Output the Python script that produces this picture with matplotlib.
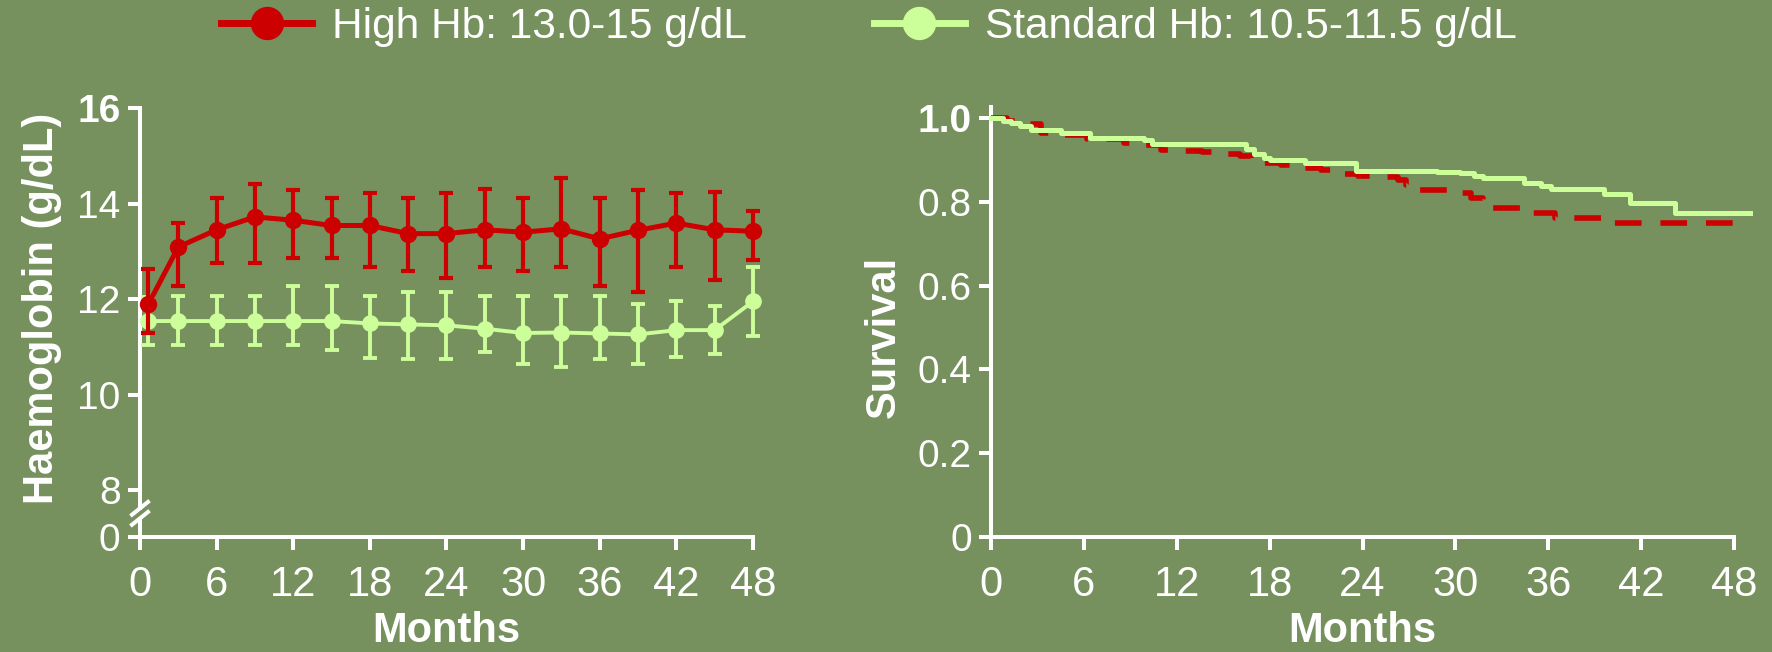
import matplotlib
matplotlib.use("Agg")
import matplotlib.pyplot as plt
from matplotlib.lines import Line2D

plt.rcParams["font.family"] = ["Liberation Sans", "DejaVu Sans"]

BG = "#76905E"
RED = "#CC0000"
GREEN = "#CCFF99"
WHITE = "white"

# --- left panel: haemoglobin over time (mean with asymmetric error bars)
HB_MONTHS = [0.65, 3, 6, 9, 12, 15, 18, 21, 24, 27, 30, 33, 36, 39, 42, 45, 48]
HIGH_MEAN = [11.89, 13.09, 13.45, 13.72, 13.65, 13.54, 13.54, 13.37, 13.37,
             13.45, 13.40, 13.47, 13.26, 13.44, 13.59, 13.45, 13.42]
HIGH_UPPER = [12.63, 13.59, 14.12, 14.40, 14.28, 14.12, 14.22, 14.12, 14.21,
              14.30, 14.11, 14.53, 14.11, 14.28, 14.21, 14.25, 13.85]
HIGH_LOWER = [11.30, 12.28, 12.75, 12.75, 12.86, 12.86, 12.68, 12.58, 12.44,
              12.68, 12.58, 12.68, 12.27, 12.14, 12.68, 12.39, 12.81]
STD_MEAN = [11.54, 11.54, 11.54, 11.54, 11.54, 11.54, 11.49, 11.47, 11.45,
            11.38, 11.29, 11.30, 11.28, 11.26, 11.35, 11.35, 11.95]
STD_UPPER = [12.04, 12.06, 12.06, 12.06, 12.28, 12.28, 12.06, 12.14, 12.14,
             12.06, 12.06, 12.06, 12.06, 11.89, 11.95, 11.86, 12.68]
STD_LOWER = [11.04, 11.04, 11.04, 11.04, 11.04, 10.93, 10.77, 10.74, 10.74,
             10.90, 10.65, 10.58, 10.74, 10.65, 10.79, 10.86, 11.23]

HB_TICKS = [7.02, 8, 10, 12, 14, 16]
HB_TICK_LABELS = ["0", "8", "10", "12", "14", "16"]

# --- right panel: Kaplan-Meier survival (step after each time)
STD_SURV_T = [0, 0.8, 1.3, 1.9, 2.6, 4.5, 6.4, 9.9, 10.4, 16.5, 17.0, 17.6,
              18.0, 20.3, 23.6, 28.8, 30.3, 31.2, 31.8, 34.4, 35.5, 36.2,
              39.6, 41.3, 44.2, 49.0]
STD_SURV = [1.0, 0.993, 0.987, 0.981, 0.970, 0.965, 0.951, 0.948, 0.937,
            0.925, 0.915, 0.905, 0.900, 0.892, 0.874, 0.872, 0.868, 0.862,
            0.856, 0.844, 0.838, 0.830, 0.818, 0.796, 0.772, 0.772]
HIGH_SURV_T = [0, 1.0, 1.9, 3.2, 4.5, 6.2, 8.6, 9.8, 11.0, 12.3, 13.6, 14.9,
               16.1, 16.8, 17.4, 18.7, 20.0, 21.3, 22.3, 23.7, 25.0, 26.3,
               26.8, 27.2, 30.0, 31.0, 31.8, 32.4, 34.2, 36.4, 39.9, 48.0]
HIGH_SURV = [1.0, 0.993, 0.985, 0.964, 0.958, 0.950, 0.940, 0.936, 0.924,
             0.922, 0.918, 0.914, 0.908, 0.900, 0.893, 0.888, 0.880, 0.876,
             0.866, 0.862, 0.858, 0.852, 0.840, 0.828, 0.820, 0.808, 0.796,
             0.784, 0.772, 0.760, 0.749, 0.749]

SURV_TICKS = [0, 0.2, 0.4, 0.6, 0.8, 1.0]
SURV_TICK_LABELS = ["0", "0.2", "0.4", "0.6", "0.8", "1.0"]
MONTH_TICKS = [0, 6, 12, 18, 24, 30, 36, 42, 48]

LEGEND_LABELS = ["High Hb: 13.0-15 g/dL", "Standard Hb: 10.5-11.5 g/dL"]


def style_axes(ax, ytick_size):
    ax.set_facecolor("none")
    for side in ("top", "right"):
        ax.spines[side].set_visible(False)
    for side in ("left", "bottom"):
        ax.spines[side].set_color(WHITE)
        ax.spines[side].set_linewidth(2.9)
    ax.tick_params(axis="both", colors=WHITE, width=2.9, length=9, direction="out")
    ax.tick_params(axis="x", labelsize=30, pad=11)
    ax.tick_params(axis="y", labelsize=ytick_size, pad=5)
    ax.set_xlim(0, 48)
    ax.set_xticks(MONTH_TICKS)
    ax.set_xlabel("Months", fontsize=30, fontweight="bold", color=WHITE)
    ax.xaxis.set_label_coords(0.5, -0.172)


fig = plt.figure(figsize=(17.72, 6.52), dpi=100, facecolor=BG)

# left panel
ax1 = fig.add_axes([0.0790, 0.1764, 0.3459, 0.6580])
style_axes(ax1, 28)
ax1.set_ylim(HB_TICKS[0], 16)
ax1.set_yticks(HB_TICKS)
ax1.set_yticklabels(HB_TICK_LABELS)
ax1.get_yticklabels()[-1].set_fontweight("bold")
ax1.set_ylabel("Haemoglobin (g/dL)", fontsize=30, fontweight="bold", color=WHITE)
ax1.yaxis.set_label_coords(-0.127, 0.534)

std_err = [[m - lo for m, lo in zip(STD_MEAN, STD_LOWER)],
           [hi - m for m, hi in zip(STD_MEAN, STD_UPPER)]]
high_err = [[m - lo for m, lo in zip(HIGH_MEAN, HIGH_LOWER)],
            [hi - m for m, hi in zip(HIGH_MEAN, HIGH_UPPER)]]
ax1.errorbar(HB_MONTHS, STD_MEAN, yerr=std_err, color=GREEN, lw=2.8,
             marker="o", ms=11, elinewidth=2.8, capsize=5, capthick=2.8,
             clip_on=False, zorder=3)
ax1.errorbar(HB_MONTHS, HIGH_MEAN, yerr=high_err, color=RED, lw=3.6,
             marker="o", ms=11.5, elinewidth=3, capsize=5, capthick=3,
             clip_on=False, zorder=4)

# broken y axis between 0 and 8
ax1.spines["left"].set_bounds(7.62, 16)
ax1.plot([0, 0], [HB_TICKS[0], 7.41], color=WHITE, lw=2.9, clip_on=False,
         solid_capstyle="butt")
for yc in (7.62, 7.41):
    ax1.plot([-0.75, 0.75], [yc - 0.16, yc + 0.16], color=WHITE, lw=2.9,
             clip_on=False, solid_capstyle="butt")

# right panel
ax2 = fig.add_axes([0.5593, 0.1764, 0.4193, 0.6595])
style_axes(ax2, 28)
ax2.set_ylim(0, 1.026)
ax2.set_yticks(SURV_TICKS)
ax2.set_yticklabels(SURV_TICK_LABELS)
ax2.get_yticklabels()[-1].set_fontweight("bold")
ax2.set_ylabel("Survival", fontsize=30, fontweight="bold", color=WHITE)
ax2.yaxis.set_label_coords(-0.117, 0.465)

ax2.plot(HIGH_SURV_T, HIGH_SURV, drawstyle="steps-post", color=RED, lw=4,
         linestyle=(0, (4.8, 3.4)), clip_on=False, zorder=3)
ax2.plot(STD_SURV_T, STD_SURV, drawstyle="steps-post", color=GREEN, lw=3.6,
         clip_on=False, zorder=4)

# legend
handles = [
    Line2D([], [], color=RED, lw=5, marker="o", ms=23),
    Line2D([], [], color=GREEN, lw=5, marker="o", ms=23),
]
leg = fig.legend(handles, LEGEND_LABELS, loc="center left",
                 bbox_to_anchor=(221 / 1772, 1 - 27 / 652), ncol=2,
                 frameon=False, fontsize=30.5, handlelength=2.15,
                 handletextpad=0.47, columnspacing=3.0, borderpad=0,
                 borderaxespad=0)
for t in leg.get_texts():
    t.set_color(WHITE)

fig.savefig("out.png", dpi=100, facecolor=BG)
